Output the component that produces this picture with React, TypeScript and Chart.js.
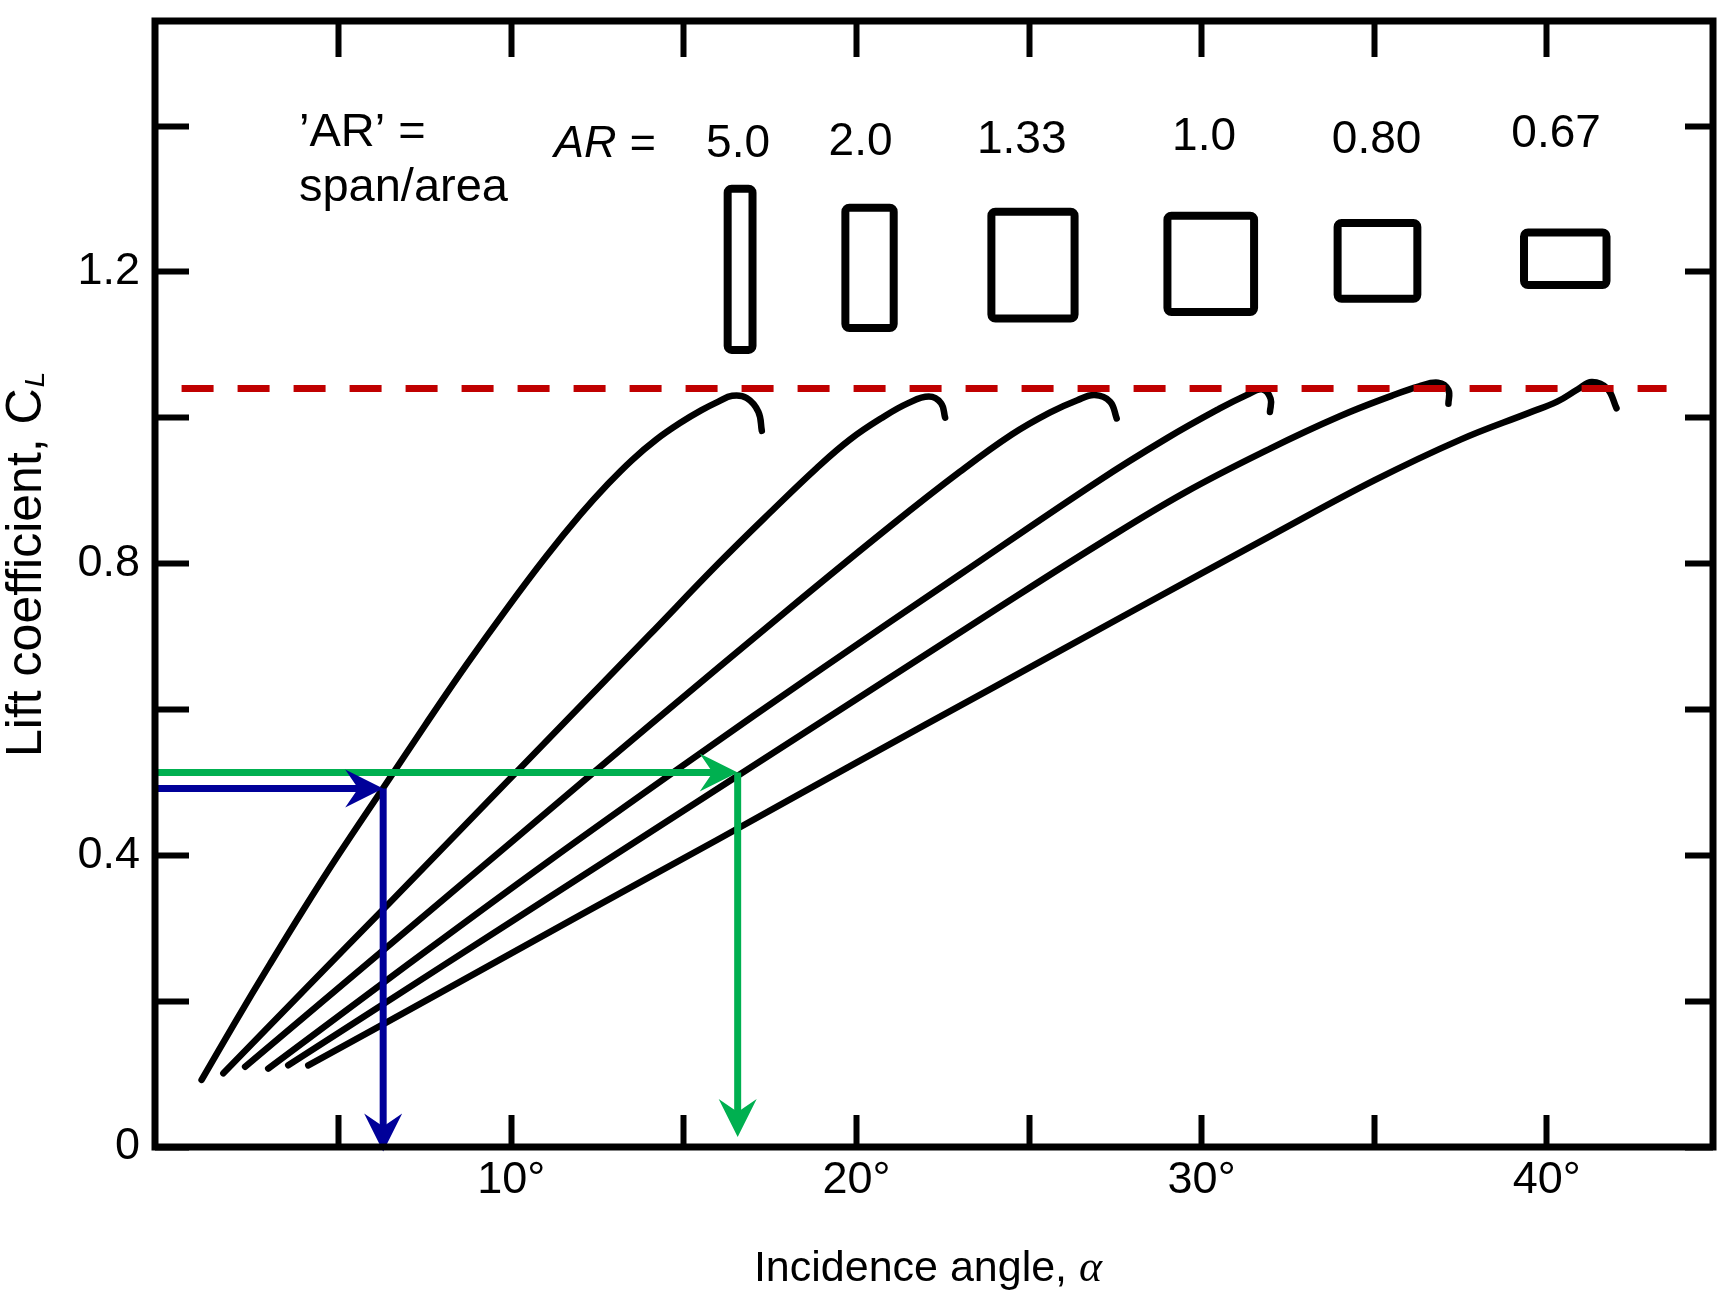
import React, { useEffect, useRef } from 'react';
import { Chart, registerables } from 'chart.js';

Chart.register(...registerables);

// ---------------- Axis ticks ----------------
const X_TICKS = [5, 10, 15, 20, 25, 30, 35, 40];
const X_LABELED = [10, 20, 30, 40];
const Y_TICKS = [0, 0.2, 0.4, 0.6, 0.8, 1.0, 1.2, 1.4];
const Y_LABELED = [0, 0.4, 0.8, 1.2];

// ---------------- Series: incidence angle (deg) and lift coefficient ----------------
const alphaAR5_0 = [1.03, 2.0, 3.0, 4.0, 5.0, 6.3, 7.5, 8.7, 9.9, 11.0, 12.0, 12.8, 13.5, 14.2, 14.9, 15.5, 16.0, 16.4, 16.82, 17.16, 17.26];
const clAR5_0 = [0.092, 0.171, 0.25, 0.327, 0.401, 0.493, 0.578, 0.661, 0.74, 0.809, 0.867, 0.909, 0.942, 0.97, 0.993, 1.01, 1.022, 1.03, 1.027, 1.008, 0.982];

const alphaAR2_0 = [1.66, 4.0, 6.5, 9.0, 11.5, 14.0, 16.0, 17.5, 18.85, 19.81, 20.78, 21.5, 22.1, 22.45, 22.57];
const clAR2_0 = [0.101, 0.215, 0.336, 0.458, 0.58, 0.702, 0.8, 0.87, 0.931, 0.97, 1.001, 1.02, 1.029, 1.02, 1.0];

const alphaAR1_33 = [2.29, 6.0, 10.0, 14.0, 18.0, 21.0, 23.0, 24.5, 25.6, 26.4, 26.9, 27.35, 27.54];
const clAR1_33 = [0.11, 0.258, 0.418, 0.578, 0.736, 0.852, 0.926, 0.977, 1.007, 1.024, 1.031, 1.022, 0.999];

const alphaAR1_0 = [2.96, 7.0, 11.0, 15.0, 19.0, 23.0, 27.0, 29.0, 30.5, 31.3, 31.75, 32.0, 31.98];
const clAR1_0 = [0.1075, 0.25, 0.389, 0.524, 0.656, 0.785, 0.913, 0.972, 1.012, 1.031, 1.039, 1.026, 1.008];

const alphaAR0_80 = [3.54, 8.0, 12.0, 16.0, 20.0, 24.0, 27.0, 29.5, 32.0, 34.0, 35.5, 36.3, 36.85, 37.15, 37.15];
const clAR0_80 = [0.112, 0.248, 0.37, 0.492, 0.614, 0.736, 0.826, 0.897, 0.958, 1.002, 1.03, 1.043, 1.048, 1.038, 1.019];

const alphaAR0_67 = [4.12, 8.0, 12.0, 16.0, 20.0, 24.0, 28.0, 32.0, 35.0, 37.5, 39.5, 40.3, 40.9, 41.3, 41.75, 42.02];
const clAR0_67 = [0.112, 0.213, 0.318, 0.422, 0.527, 0.631, 0.735, 0.838, 0.914, 0.97, 1.007, 1.022, 1.039, 1.049, 1.04, 1.013];

const AR_VALUES = ['5.0', '2.0', '1.33', '1.0', '0.80', '0.67'];

// max lift coefficient line
const CL_MAX = 1.04;
const CL_MAX_ALPHA_RANGE = [0.45, 43.47];

// read-off examples (arrows)
const BLUE_ALPHA = 6.29;
const BLUE_CL = 0.4915;
const BLUE_TIP_CL = -0.006;
const GREEN_ALPHA = 16.56;
const GREEN_CL = 0.5135;
const GREEN_TIP_CL = 0.0137;

// ---------------- Scale range ----------------
const X_MIN = -0.32;
const X_MAX = 44.815;
const Y_MIN = 0;
const Y_MAX = 1.544;

// ---------------- Annotation layout (data units) ----------------
const NOTE_ALPHA = 3.85;
const NOTE_CL = [1.372, 1.297];
const AR_SYMBOL_POS = { alpha: 11.24, cl: 1.357 };
const AR_LABEL_ALPHA = [16.57, 20.12, 24.79, 30.07, 35.07, 40.27];
const AR_LABEL_CL = [1.358, 1.36, 1.363, 1.367, 1.363, 1.371];
const PLANFORM_BOX = [
  [16.27, 16.99, 1.093, 1.314],
  [19.68, 21.08, 1.123, 1.288],
  [23.91, 26.32, 1.136, 1.2825],
  [29.01, 31.52, 1.145, 1.277],
  [33.94, 36.25, 1.163, 1.267],
  [39.34, 41.73, 1.182, 1.254],
];

// ---------------- Styles ----------------
const W = 1717;
const H = 1293;
const SANS = '"Liberation Sans", Arial, Helvetica, sans-serif';
const SERIF = '"Liberation Serif", "Times New Roman", serif';
const RED = '#C00000';
const BLUE = '#000099';
const GREEN = '#00B050';

const toPoints = (xs: number[], ys: number[]) => xs.map((x, i) => ({ x, y: ys[i] }));
const near = (list: number[], v: number) => list.some((l) => Math.abs(l - v) < 1e-6);

const noPad = (s: any) => {
  s.paddingTop = 0;
  s.paddingBottom = 0;
  s.paddingLeft = 0;
  s.paddingRight = 0;
};

const framePlugin = {
  id: 'frame',
  afterDraw(chart: any) {
    const { ctx, chartArea: a } = chart;
    ctx.save();
    ctx.strokeStyle = '#000';
    ctx.lineWidth = 7;
    ctx.lineJoin = 'miter';
    ctx.strokeRect(a.left, a.top, a.right - a.left, a.bottom - a.top);
    ctx.restore();
  },
};

const tipGeom = (meta: any) => {
  const pts = meta.data;
  const p1 = pts[pts.length - 2];
  const p2 = pts[pts.length - 1];
  const ang = Math.atan2(p2.y - p1.y, p2.x - p1.x);
  return { x: p2.x, y: p2.y, ang };
};

const arrowPlugin = {
  id: 'arrowHeads',
  beforeDatasetDraw(chart: any, args: any) {
    const ds = chart.data.datasets[args.index];
    if (!ds.arrowHead) return;
    const { x, y, ang } = tipGeom(args.meta);
    const c = Math.cos(ang);
    const s = Math.sin(ang);
    const ctx = chart.ctx;
    ctx.save();
    ctx.beginPath();
    ctx.rect(0, 0, chart.width, chart.height);
    const corners = [[-12, -6], [3, -6], [3, 6], [-12, 6]].map(([u, v]) => [x + u * c - v * s, y + u * s + v * c]);
    ctx.moveTo(corners[0][0], corners[0][1]);
    for (let i = 1; i < corners.length; i++) ctx.lineTo(corners[i][0], corners[i][1]);
    ctx.closePath();
    ctx.clip('evenodd');
  },
  afterDatasetDraw(chart: any, args: any) {
    const ds = chart.data.datasets[args.index];
    if (!ds.arrowHead) return;
    chart.ctx.restore();
  },
  afterDatasetsDraw(chart: any) {
    const ctx = chart.ctx;
    chart.data.datasets.forEach((ds: any, i: number) => {
      if (!ds.arrowHead) return;
      const { x, y, ang } = tipGeom(chart.getDatasetMeta(i));
      const L = 38;
      const HW = 19;
      const N = 13;
      ctx.save();
      ctx.translate(x, y);
      ctx.rotate(ang);
      ctx.beginPath();
      ctx.moveTo(0, 0);
      ctx.lineTo(-L, -HW);
      ctx.lineTo(-(L - N), 0);
      ctx.lineTo(-L, HW);
      ctx.closePath();
      ctx.fillStyle = ds.borderColor;
      ctx.fill();
      ctx.restore();
    });
  },
};

const annotationPlugin = {
  id: 'annotations',
  afterDraw(chart: any) {
    const { ctx } = chart;
    const xs = chart.scales.x;
    const ys = chart.scales.y;
    const px = (v: number) => xs.getPixelForValue(v);
    const py = (v: number) => ys.getPixelForValue(v);
    ctx.save();
    ctx.fillStyle = '#000';
    ctx.textBaseline = 'alphabetic';

    // "'AR' = span/area"
    ctx.font = `47px ${SANS}`;
    ctx.textAlign = 'left';
    ctx.fillText('\u2019AR\u2019 =', px(NOTE_ALPHA), py(NOTE_CL[0]));
    ctx.fillText('span/area', px(NOTE_ALPHA), py(NOTE_CL[1]));

    // "AR =" symbol
    ctx.font = `italic 45px ${SANS}`;
    ctx.fillText('AR =', px(AR_SYMBOL_POS.alpha), py(AR_SYMBOL_POS.cl));

    // AR values
    ctx.font = `46px ${SANS}`;
    ctx.textAlign = 'center';
    AR_VALUES.forEach((t, i) => ctx.fillText(t, px(AR_LABEL_ALPHA[i]), py(AR_LABEL_CL[i])));

    // planform outlines
    ctx.strokeStyle = '#000';
    ctx.lineWidth = 8;
    ctx.lineJoin = 'round';
    PLANFORM_BOX.forEach(([a0, a1, c0, c1]) => {
      const x0 = px(a0);
      const x1 = px(a1);
      const y0 = py(c1);
      const y1 = py(c0);
      ctx.beginPath();
      if (ctx.roundRect) ctx.roundRect(x0, y0, x1 - x0, y1 - y0, 4);
      else ctx.rect(x0, y0, x1 - x0, y1 - y0);
      ctx.stroke();
    });

    // y title: "Lift coefficient, C_L"
    ctx.save();
    ctx.translate(41, 757);
    ctx.rotate(-Math.PI / 2);
    ctx.textAlign = 'left';
    ctx.font = `50px ${SANS}`;
    const main = 'Lift coefficient, C';
    ctx.fillText(main, 0, 0);
    const mw = ctx.measureText(main).width;
    ctx.font = `italic 28px ${SANS}`;
    ctx.fillText('L', mw + 1, 3);
    ctx.restore();

    // x title: "Incidence angle, α"
    ctx.textAlign = 'left';
    ctx.font = `43px ${SANS}`;
    const t1 = 'Incidence angle, ';
    const w1 = ctx.measureText(t1).width;
    ctx.font = `italic 44px ${SERIF}`;
    const t2 = '\u03b1';
    const w2 = ctx.measureText(t2).width;
    const start = 928 - (w1 + w2) / 2;
    ctx.font = `43px ${SANS}`;
    ctx.fillText(t1, start, 1281);
    ctx.font = `italic 44px ${SERIF}`;
    ctx.fillText(t2, start + w1, 1281);

    ctx.restore();
  },
};

const curve = (label: string, xs: number[], ys: number[]) => ({
  label,
  data: toPoints(xs, ys),
  borderColor: '#000',
  borderWidth: 6.5,
  pointRadius: 0,
  tension: 0.4,
  borderCapStyle: 'round',
  borderJoinStyle: 'round',
  fill: false,
  order: 3,
});

const arrow = (label: string, pts: { x: number; y: number }[], color: string) => ({
  label,
  data: pts,
  borderColor: color,
  backgroundColor: color,
  borderWidth: 7,
  pointRadius: 0,
  tension: 0,
  fill: false,
  clip: false,
  arrowHead: true,
  order: 1,
});

export default function App() {
  const canvasRef = useRef<HTMLCanvasElement | null>(null);

  useEffect(() => {
    const canvas = canvasRef.current;
    if (!canvas) return;

    const chart = new Chart(canvas, {
      type: 'line',
      data: {
        datasets: [
          curve('AR = 5.0', alphaAR5_0, clAR5_0),
          curve('AR = 2.0', alphaAR2_0, clAR2_0),
          curve('AR = 1.33', alphaAR1_33, clAR1_33),
          curve('AR = 1.0', alphaAR1_0, clAR1_0),
          curve('AR = 0.80', alphaAR0_80, clAR0_80),
          curve('AR = 0.67', alphaAR0_67, clAR0_67),
          {
            label: 'CL max',
            data: [
              { x: CL_MAX_ALPHA_RANGE[0], y: CL_MAX },
              { x: CL_MAX_ALPHA_RANGE[1], y: CL_MAX },
            ],
            borderColor: RED,
            borderWidth: 7,
            borderDash: [32, 24],
            pointRadius: 0,
            tension: 0,
            fill: false,
            order: 2,
          },
          arrow('blue across', [{ x: X_MIN, y: BLUE_CL }, { x: BLUE_ALPHA, y: BLUE_CL }], BLUE),
          arrow('blue down', [{ x: BLUE_ALPHA, y: BLUE_CL }, { x: BLUE_ALPHA, y: BLUE_TIP_CL }], BLUE),
          arrow('green across', [{ x: X_MIN, y: GREEN_CL }, { x: GREEN_ALPHA, y: GREEN_CL }], GREEN),
          arrow('green down', [{ x: GREEN_ALPHA, y: GREEN_CL }, { x: GREEN_ALPHA, y: GREEN_TIP_CL }], GREEN),
        ] as any,
      },
      options: {
        responsive: false,
        maintainAspectRatio: false,
        devicePixelRatio: 1,
        animation: false,
        events: [],
        layout: { padding: 0, autoPadding: false } as any,
        plugins: {
          legend: { display: false },
          tooltip: { enabled: false },
          title: { display: false },
        },
        scales: {
          x: {
            type: 'linear',
            position: 'bottom',
            min: X_MIN,
            max: X_MAX,
            afterBuildTicks: (s: any) => {
              s.ticks = X_TICKS.map((v) => ({ value: v }));
            },
            afterFit: (s: any) => {
              s.height = H - 1147;
              noPad(s);
            },
            grid: { display: true, drawOnChartArea: false, drawTicks: true, tickLength: -32, tickWidth: 6, tickColor: '#000' },
            border: { display: false },
            ticks: {
              autoSkip: false,
              maxRotation: 0,
              minRotation: 0,
              padding: 39,
              color: '#000',
              font: { family: SANS, size: 45 },
              callback: (v: any) => (near(X_LABELED, Number(v)) ? `${v}\u00b0` : ''),
            },
            title: { display: false },
          },
          x2: {
            type: 'linear',
            axis: 'x',
            position: 'top',
            min: X_MIN,
            max: X_MAX,
            afterBuildTicks: (s: any) => {
              s.ticks = X_TICKS.map((v) => ({ value: v }));
            },
            afterFit: (s: any) => {
              s.height = 21;
              noPad(s);
            },
            grid: { display: true, drawOnChartArea: false, drawTicks: true, tickLength: -36, tickWidth: 6, tickColor: '#000' },
            border: { display: false },
            ticks: { display: false },
          },
          y: {
            type: 'linear',
            position: 'left',
            min: Y_MIN,
            max: Y_MAX,
            afterBuildTicks: (s: any) => {
              s.ticks = Y_TICKS.map((v) => ({ value: v }));
            },
            afterFit: (s: any) => {
              s.width = 155;
              noPad(s);
            },
            grid: { display: true, drawOnChartArea: false, drawTicks: true, tickLength: -34, tickWidth: 6, tickColor: '#000' },
            border: { display: false },
            ticks: {
              autoSkip: false,
              padding: 49,
              color: '#000',
              font: { family: SANS, size: 45 },
              callback: (v: any) => {
                const n = Number(v);
                if (!near(Y_LABELED, n)) return '';
                return Math.abs(n) < 1e-9 ? '0' : n.toFixed(1);
              },
            },
            title: { display: false },
          },
          y2: {
            type: 'linear',
            axis: 'y',
            position: 'right',
            min: Y_MIN,
            max: Y_MAX,
            afterBuildTicks: (s: any) => {
              s.ticks = Y_TICKS.map((v) => ({ value: v }));
            },
            afterFit: (s: any) => {
              s.width = W - 1713;
              noPad(s);
            },
            grid: { display: true, drawOnChartArea: false, drawTicks: true, tickLength: -28, tickWidth: 6, tickColor: '#000' },
            border: { display: false },
            ticks: { display: false },
          },
        } as any,
      },
      plugins: [arrowPlugin, framePlugin, annotationPlugin],
    });

    return () => {
      chart.destroy();
    };
  }, []);

  return (
    <div style={{ position: 'fixed', left: 0, top: 0, width: W, height: H, background: '#fff' }}>
      <canvas ref={canvasRef} width={W} height={H} style={{ display: 'block', width: W, height: H }} />
    </div>
  );
}
